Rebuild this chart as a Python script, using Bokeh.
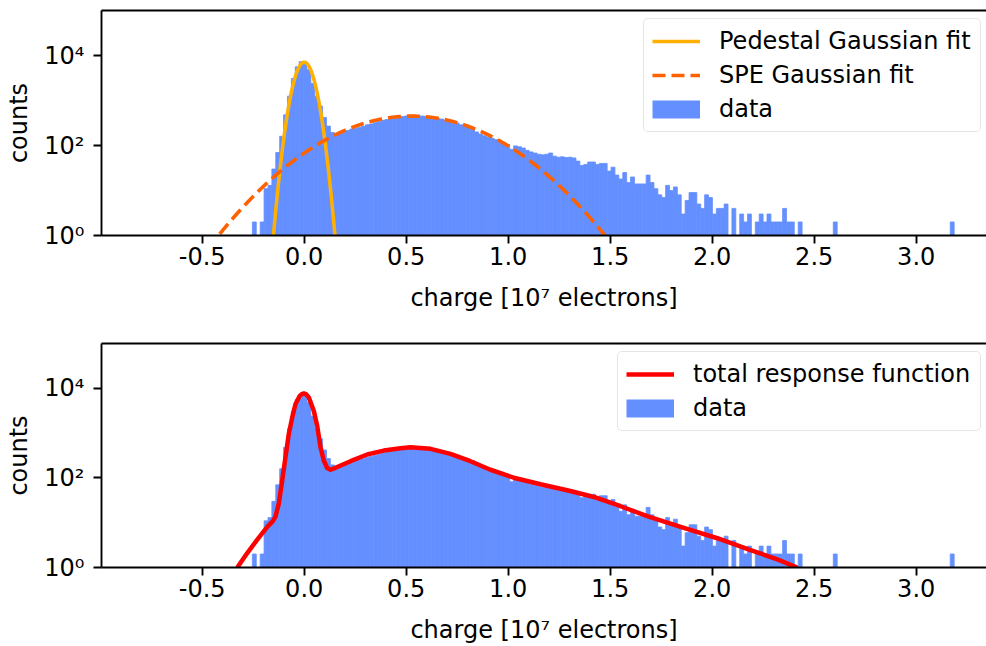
import numpy as np
from bokeh.plotting import figure
from bokeh.layouts import column
from bokeh.models import (ColumnDataSource, FixedTicker, LinearAxis, Legend,
                          LegendItem, Range1d)
from bokeh.embed import file_html
from bokeh.resources import INLINE

# ---------------------------------------------------------------- data
# histogram binning of the charge spectrum (units of 1e7 electrons)
hist_lo = -0.254
hist_hi = 3.186
n_bins = 180

# counts per bin: pedestal region, single-photoelectron hump, high-charge tail
counts_pedestal = [2, 0, 2, 11, 13, 30, 70, 160, 480, 1250, 3100, 5600,
                   7300, 6900, 4800, 2400, 1250, 750, 420, 270, 195, 185,
                   195, 210]
counts_spe = [215, 232, 238, 256, 268, 288, 300, 322, 338, 362, 378, 402,
              405, 432, 440, 452, 470, 458, 455, 452, 446, 430, 418, 398,
              388, 368, 352, 328, 318, 288, 278, 252, 242, 200, 180, 165,
              155, 145, 135, 128, 110, 105, 82, 98, 94, 88, 78, 72, 68, 64,
              62, 64, 68, 58, 55, 56, 54, 55, 53, 45, 36, 38, 43, 43, 38,
              40, 40, 27, 33, 22, 18, 25, 15, 20, 14, 14, 14, 22]
counts_tail = [15, 11, 8, 7, 13, 10, 12, 8, 3, 6, 9, 9, 5, 4, 8, 7, 3, 4, 4,
               5, 0, 4, 0, 3, 2, 3, 0, 2, 3, 2, 3, 2, 2, 2, 4, 2, 2, 0, 2,
               0, 0, 0, 0, 0, 0, 0, 0, 2,
               0, 0, 0, 0, 0, 0, 0, 0, 0, 0, 0, 0, 0, 0, 0, 0, 0, 0, 0, 0,
               0, 0, 0, 0, 0, 0, 0, 0, 0, 2]

# fitted Gaussian parameters (amplitude, mean, sigma)
pedestal_fit = (7100.0, 0.0, 0.0358)
spe_fit = (450.0, 0.527, 0.271)

# total response function, sampled (charge, counts)
resp_x = [-0.328, -0.279, -0.230, -0.181, -0.157, -0.141, -0.1245, -0.1078,
          -0.0917, -0.0755, -0.0588, -0.0426, -0.0216, -0.011, -0.002, 0.010,
          0.0225, 0.047, 0.0637, 0.080, 0.096, 0.1127, 0.1289, 0.1534, 0.227,
          0.309, 0.390, 0.472, 0.521, 0.619, 0.717, 0.815, 0.913, 1.027,
          1.158, 1.289, 1.420, 1.551, 1.681, 1.845, 2.025, 2.188, 2.319,
          2.417]
resp_y = [1.0, 2.1, 4.2, 8.1, 10.4, 13.5, 26.7, 88, 290, 960, 2230, 4450,
          6780, 7450, 7700, 7300, 6260, 3160, 1460, 485, 245, 166, 152, 168,
          236, 333, 407, 459, 485, 445, 344, 236, 152, 101, 72, 53, 37.5,
          23.3, 14, 8.1, 4.5, 2.45, 1.52, 1.0]

# axis ticks
x_tick_values = [-0.5, 0.0, 0.5, 1.0, 1.5, 2.0, 2.5, 3.0]
x_tick_labels = ["-0.5", "0.0", "0.5", "1.0", "1.5", "2.0", "2.5", "3.0"]
y_tick_values = [1, 100, 10000]
y_tick_labels = ["10\u2070", "10\u00b2", "10\u2074"]

# ---------------------------------------------------------------- style
FONT = "DejaVu Sans"
FS = "24px"
BAR = "#648FFF"
PED = "#FFB000"
SPE = "#FE6100"
RESP = "#FF0000"
X_MIN, X_MAX = -0.9936, 3.3446

edges = np.linspace(hist_lo, hist_hi, n_bins + 1)
counts = np.array(counts_pedestal + counts_spe + counts_tail, dtype=float)
keep = counts > 0
hist_src = ColumnDataSource(dict(left=edges[:-1][keep], right=edges[1:][keep],
                                 top=counts[keep]))


def gaussian_curve(params):
    amp, mu, sig = params
    xs = np.linspace(X_MIN, X_MAX, 4000)
    ys = amp * np.exp(-0.5 * ((xs - mu) / sig) ** 2)
    ok = ys > 0.5
    return xs[ok], ys[ok]


def make_panel(height, border_bottom):
    p = figure(width=986, height=height, y_axis_type="log",
               x_range=Range1d(X_MIN, X_MAX), y_range=Range1d(1, 1e5),
               output_backend="svg", toolbar_location=None,
               min_border_left=101, min_border_right=0, min_border_top=10,
               min_border_bottom=border_bottom)
    p.outline_line_color = None
    p.xgrid.visible = False
    p.ygrid.visible = False
    p.background_fill_color = "white"

    p.xaxis.ticker = FixedTicker(ticks=x_tick_values, minor_ticks=[])
    p.xaxis.major_label_overrides = dict(zip(x_tick_values, x_tick_labels))
    p.xaxis.axis_label = "charge [10\u2077 electrons]"
    p.yaxis.ticker = FixedTicker(ticks=y_tick_values, minor_ticks=[])
    p.yaxis.major_label_overrides = dict(zip(y_tick_values, y_tick_labels))
    p.yaxis.axis_label = "counts"

    for ax in (p.xaxis[0], p.yaxis[0]):
        ax.axis_line_width = 1.9
        ax.axis_line_color = "black"
        ax.major_tick_line_width = 1.9
        ax.major_tick_out = 8
        ax.major_tick_in = 0
        ax.minor_tick_out = 0
        ax.minor_tick_in = 0
        ax.major_label_text_font = FONT
        ax.major_label_text_font_size = FS
        ax.major_label_text_color = "black"
        ax.axis_label_text_font = FONT
        ax.axis_label_text_font_size = FS
        ax.axis_label_text_font_style = "normal"
        ax.axis_label_text_color = "black"
    p.xaxis.major_label_standoff = 3
    p.xaxis.axis_label_standoff = 16
    p.yaxis.major_label_standoff = 9
    p.yaxis.axis_label_standoff = 8

    # top spine
    top = LinearAxis(ticker=FixedTicker(ticks=[]), axis_line_width=1.9,
                     major_tick_out=0, major_tick_in=0, minor_tick_out=0,
                     minor_tick_in=0, major_label_standoff=0,
                     axis_label_standoff=0)
    p.add_layout(top, "above")

    bars = p.quad(left="left", right="right", bottom=1, top="top",
                  source=hist_src, fill_color=BAR, line_color=BAR,
                  line_width=0.8)
    # legend handle for the histogram (a wide, flat line swatch)
    nan_pair = np.array([np.nan, np.nan])
    data_handle = p.line(x=nan_pair, y=nan_pair, line_color=BAR,
                         line_width=18, line_cap="butt")
    return p, bars, data_handle


def style_legend(leg, label_width):
    leg.label_text_font = FONT
    leg.label_text_font_size = FS
    leg.label_text_color = "black"
    leg.border_line_color = "#cccccc"
    leg.border_line_width = 1.5
    leg.background_fill_alpha = 0.8
    leg.padding = 8
    leg.spacing = 6
    leg.margin = 0
    leg.glyph_width = 48
    leg.glyph_height = 26
    leg.label_height = 26
    leg.label_standoff = 19
    leg.label_width = label_width
    if "border_radius" in Legend.properties():
        leg.border_radius = 5


# ---------------------------------------------------------------- panel 1
p1, bars1, handle1 = make_panel(333, 98)
px, py = gaussian_curve(pedestal_fit)
r_ped = p1.line(px, py, line_color=PED, line_width=3.6)
sx, sy = gaussian_curve(spe_fit)
r_spe = p1.line(sx, sy, line_color=SPE, line_width=3.6, line_dash="13 6")
leg1 = Legend(items=[LegendItem(label="Pedestal Gaussian fit", renderers=[r_ped]),
                     LegendItem(label="SPE Gaussian fit", renderers=[r_spe]),
                     LegendItem(label="data", renderers=[handle1])],
              location=(542, 103))
style_legend(leg1, 253)
p1.add_layout(leg1)

# ---------------------------------------------------------------- panel 2
p2, bars2, handle2 = make_panel(313, 78)
r_resp = p2.line(resp_x, resp_y, line_color=RESP, line_width=4.5,
                 line_join="round")
leg2 = Legend(items=[LegendItem(label="total response function", renderers=[r_resp]),
                     LegendItem(label="data", renderers=[handle2])],
              location=(516, 136))
style_legend(leg2, 279)
p2.add_layout(leg2)

layout = column(p1, p2)
open("out.html", "w").write(file_html(layout, INLINE))
